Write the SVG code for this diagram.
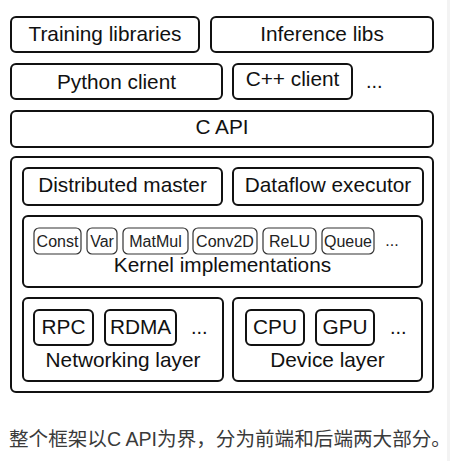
<svg xmlns="http://www.w3.org/2000/svg" width="450" height="461" viewBox="0 0 450 461">
<style>
.b{fill:#fff;stroke:#111;stroke-width:2}
.s{fill:#fff;stroke:#333;stroke-width:1.2}
.t{font-family:"Liberation Sans",Arial,sans-serif;font-size:20.8px;fill:#111;text-anchor:middle}
.k{font-family:"Liberation Sans",Arial,sans-serif;font-size:16px;fill:#222;text-anchor:middle}
.d{font-family:"Liberation Sans",Arial,sans-serif;font-size:20px;fill:#111}
.c{font-family:"Liberation Sans","Noto Sans CJK SC",sans-serif;font-size:19.6px;fill:#3a3a3a}
</style>
<rect x="0" y="0" width="450" height="461" fill="#fff"/>
<rect x="447" y="0" width="3" height="461" fill="#f3f3f3"/>
<g id="training"><rect class="b" x="11" y="17" width="188" height="35" rx="5"/><text class="t" x="105" y="41">Training libraries</text></g>
<g id="inference"><rect class="b" x="211" y="17" width="222" height="35" rx="5"/><text class="t" x="322" y="41">Inference libs</text></g>
<g id="python"><rect class="b" x="11" y="64" width="211" height="35" rx="5"/><text class="t" x="116.5" y="89">Python client</text></g>
<g id="cpp"><rect class="b" x="233" y="64" width="119" height="35" rx="5"/><text class="t" x="292.5" y="86">C++ client</text></g>
<text class="d" x="366" y="88">...</text>
<g id="capi"><rect class="b" x="11" y="111" width="422" height="36" rx="5"/><text class="t" x="222" y="134">C API</text></g>
<g id="backend"><rect class="b" x="11" y="157" width="422" height="235" rx="5"/></g>
<g id="master"><rect class="b" x="23" y="168" width="199" height="37" rx="5"/><text class="t" x="122.5" y="192">Distributed master</text></g>
<g id="dataflow"><rect class="b" x="233" y="168" width="190" height="37" rx="5"/><text class="t" x="328" y="192">Dataflow executor</text></g>
<g id="kernels">
<rect class="b" x="23" y="216" width="399" height="71" rx="5"/>
<rect class="s" x="34" y="228" width="47" height="26" rx="5"/><text class="k" x="57.5" y="247">Const</text>
<rect class="s" x="87" y="228" width="30" height="26" rx="5"/><text class="k" x="102" y="247">Var</text>
<rect class="s" x="123" y="228" width="65" height="26" rx="5"/><text class="k" x="155.5" y="247">MatMul</text>
<rect class="s" x="193" y="228" width="64" height="26" rx="5"/><text class="k" x="225" y="247">Conv2D</text>
<rect class="s" x="263" y="228" width="53" height="26" rx="5"/><text class="k" x="289.5" y="247">ReLU</text>
<rect class="s" x="322" y="228" width="52" height="26" rx="5"/><text class="k" x="348" y="247">Queue</text>
<text class="k" x="392" y="246">...</text>
<text class="t" x="222.5" y="272">Kernel implementations</text>
</g>
<g id="networking">
<rect class="b" x="23" y="298" width="200" height="83" rx="5"/>
<rect class="b" x="34" y="310" width="59" height="35" rx="5"/><text class="t" x="63.5" y="334">RPC</text>
<rect class="b" x="105" y="310" width="71" height="35" rx="5"/><text class="t" x="140.5" y="334">RDMA</text>
<text class="d" x="191" y="334">...</text>
<text class="t" x="123" y="367">Networking layer</text>
</g>
<g id="device">
<rect class="b" x="233" y="298" width="189" height="83" rx="5"/>
<rect class="b" x="246" y="310" width="58" height="35" rx="5"/><text class="t" x="275" y="334">CPU</text>
<rect class="b" x="316" y="310" width="58" height="35" rx="5"/><text class="t" x="345" y="334">GPU</text>
<text class="d" x="390" y="334">...</text>
<text class="t" x="327.5" y="367">Device layer</text>
</g>
<text class="c" x="9" y="446">整个框架以C API为界，分为前端和后端两大部分。</text>
</svg>
